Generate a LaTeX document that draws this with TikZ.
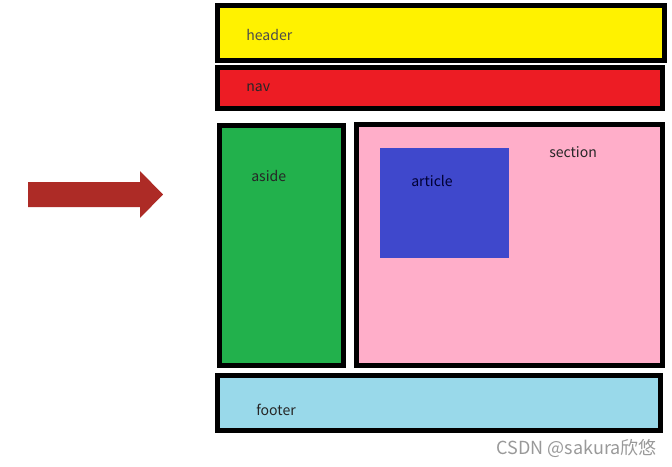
\documentclass[tikz,border=0pt]{standalone}
\usepackage{fontspec}
\setmainfont{Noto Sans CJK SC}
\definecolor{hdryellow}{HTML}{FFF200}
\definecolor{navred}{HTML}{ED1C24}
\definecolor{asidegreen}{HTML}{22B14C}
\definecolor{secpink}{HTML}{FFAEC9}
\definecolor{artblue}{HTML}{3F48CC}
\definecolor{footblue}{HTML}{99D9EA}
\definecolor{arrowred}{HTML}{AD2B26}
\tikzset{
  box/.style={draw=black,line width=3.5pt},
  lbl/.style={anchor=west,inner sep=0pt,text=black!85}
}
\begin{document}
\begin{tikzpicture}[x=0.025cm,y=-0.025cm]
    \useasboundingbox (0,0) rectangle (672,467);
    % arrow on the left
    \fill[arrowred] (28,182) -- (140,182) -- (140,171) -- (163,194.5)
      -- (140,218) -- (140,207) -- (28,207) -- cycle;

    \draw[box,fill=hdryellow] (217.5,5.5) rectangle (664.5,60.5);
    \node[lbl,text=black!70] (header) at (246,35) {header};

    \draw[box,fill=navred] (217.5,67.5) rectangle (662.5,108.5);
    \node[lbl] (nav) at (246,88) {nav};

    \draw[box,fill=asidegreen] (219.5,125.5) rectangle (343.5,365.5);
    \node[lbl] (aside) at (251,176) {aside};

    \draw[box,fill=secpink] (356.5,124.5) rectangle (662.5,365.5);
    \node[lbl] (section) at (549,152) {section};
    \fill[artblue] (380,148) rectangle (509,258);
    \node[lbl,text=black!80!blue] (article) at (411,181) {article};

    \draw[box,fill=footblue] (217.5,375.5) rectangle (660.5,430.5);
    \node[lbl] (footer) at (256,410) {footer};

    \node[anchor=east,inner sep=0pt,text=black!40,font=\fontsize{12.8}{13}\selectfont]
      (mark) at (657,448) {CSDN @sakura欣悠};
\end{tikzpicture}
\end{document}
